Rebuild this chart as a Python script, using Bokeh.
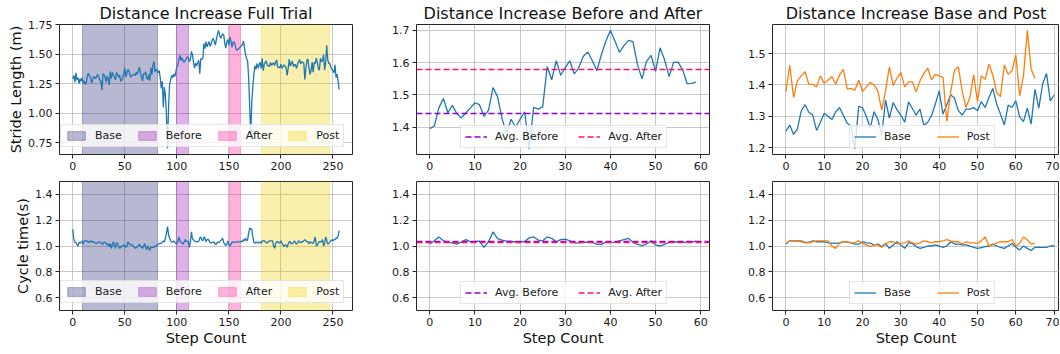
import numpy as np
from bokeh.plotting import figure
from bokeh.layouts import column, row
from bokeh.models import FixedTicker, PrintfTickFormatter, Range1d
from bokeh.embed import file_html
from bokeh.resources import INLINE

FONT = "DejaVu Sans"

# ---------------- data ----------------
# Stride length (m), full trial split into segments
stride_head = [1.29, 1.32, 1.26, 1.34, 1.28, 1.30, 1.25, 1.29, 1.27, 1.30]
stride_base = [1.253, 1.272, 1.242, 1.260, 1.317, 1.337, 1.312, 1.304, 1.255, 1.281,
               1.310, 1.300, 1.290, 1.314, 1.328, 1.303, 1.278, 1.268, 1.197, 1.332,
               1.327, 1.300, 1.262, 1.315, 1.290, 1.238, 1.352, 1.294, 1.344, 1.321,
               1.304, 1.281, 1.346, 1.325, 1.304, 1.323, 1.270, 1.281, 1.302, 1.339,
               1.381, 1.307, 1.337, 1.369, 1.358, 1.318, 1.304, 1.323, 1.323, 1.328,
               1.318, 1.347, 1.328, 1.360, 1.389, 1.339, 1.307, 1.272, 1.336, 1.328,
               1.349, 1.298, 1.283, 1.326, 1.275, 1.386, 1.326, 1.403, 1.437, 1.349,
               1.368]
stride_gap1 = [1.37, 1.34, 1.36, 1.30, 1.21, 1.27, 1.05, 1.22, 1.15, 0.98,
               0.70, 1.05, 1.24, 1.28, 1.32, 1.30, 1.33, 1.31, 1.35]
stride_before_after = [1.396, 1.404, 1.460, 1.489, 1.445, 1.468, 1.442, 1.429, 1.445, 1.460,
                       1.476, 1.470, 1.434, 1.453, 1.523, 1.495, 1.427, 1.380, 1.425, 1.401,
                       1.425, 1.448, 1.334, 1.462, 1.456, 1.463, 1.588, 1.547, 1.606, 1.561,
                       1.585, 1.606, 1.565, 1.585, 1.620, 1.633, 1.606, 1.575, 1.625, 1.667,
                       1.700, 1.667, 1.632, 1.653, 1.669, 1.665, 1.594, 1.550, 1.604, 1.623,
                       1.573, 1.646, 1.609, 1.557, 1.601, 1.602, 1.578, 1.535, 1.536, 1.540]
stride_gap2 = [1.55, 1.56, 1.57, 1.58, 1.61, 1.55, 1.50, 1.46, 1.44, 1.30, 1.05,
               0.80, 1.10, 1.22, 1.33, 1.40, 1.37, 1.42, 1.38, 1.41, 1.43]
stride_post = [1.379, 1.463, 1.360, 1.413, 1.429, 1.442, 1.402, 1.402, 1.394, 1.429,
               1.405, 1.416, 1.427, 1.402, 1.432, 1.450, 1.387, 1.389, 1.383, 1.415,
               1.379, 1.394, 1.408, 1.400, 1.381, 1.320, 1.381, 1.458, 1.398, 1.422,
               1.440, 1.394, 1.410, 1.410, 1.378, 1.413, 1.437, 1.454, 1.416, 1.434,
               1.429, 1.424, 1.284, 1.376, 1.447, 1.458, 1.381, 1.328, 1.360, 1.432,
               1.346, 1.429, 1.418, 1.466, 1.431, 1.376, 1.363, 1.464, 1.434, 1.445,
               1.496, 1.365, 1.429, 1.574, 1.450, 1.421]
stride_tail = [1.42, 1.39, 1.37, 1.36, 1.34, 1.41, 1.30, 1.33, 1.27, 1.20]

# Cycle time (s), same segments
cycle_head = [1.13, 1.05, 1.03, 1.03, 1.01, 1.00, 1.03, 1.02, 1.03, 1.04]
cycle_base = [1.015, 1.040, 1.040, 1.038, 1.040, 1.028, 1.028, 1.040, 1.033, 1.033,
              1.033, 1.025, 1.023, 1.020, 1.025, 1.033, 1.030, 1.025, 1.015, 1.015,
              1.033, 1.025, 1.023, 1.008, 1.015, 0.995, 1.020, 0.982, 1.008, 1.033,
              1.008, 0.982, 1.025, 1.020, 0.995, 0.982, 0.990, 1.000, 1.000, 1.008,
              1.000, 0.990, 1.000, 1.033, 1.015, 1.015, 1.008, 1.008, 1.000, 0.990,
              0.982, 0.987, 0.995, 1.000, 1.015, 1.000, 0.990, 0.982, 1.000, 1.020,
              0.990, 0.970, 1.000, 0.982, 0.965, 0.990, 0.990, 0.990, 0.990, 1.000,
              1.000]
cycle_gap1 = [1.01, 1.01, 1.02, 1.02, 1.02, 1.03, 1.04, 1.03, 1.06, 1.10,
              1.15, 1.09, 1.06, 1.04, 1.03, 1.03, 1.04, 1.03, 1.02]
cycle_before_after = [1.015, 1.040, 1.070, 1.040, 1.028, 1.025, 1.015, 1.030, 1.050, 1.033,
                      1.035, 1.038, 0.990, 1.033, 1.109, 1.058, 1.046, 1.038, 1.035, 1.033,
                      1.033, 1.035, 1.063, 1.070, 1.046, 1.040, 1.070, 1.060, 1.033, 1.050,
                      1.053, 1.040, 1.025, 1.025, 1.028, 1.030, 1.028, 1.013, 1.013, 1.030,
                      1.028, 1.030, 1.040, 1.050, 1.060, 1.028, 1.013, 1.003, 1.015, 1.040,
                      1.008, 1.000, 1.013, 1.028, 1.033, 1.030, 1.028, 1.030, 1.030, 1.038]
cycle_gap2 = [1.03, 1.03, 1.04, 1.03, 1.05, 1.04, 1.06, 1.04, 1.05, 1.10, 1.14,
              1.13, 1.13, 1.07, 1.03, 1.02, 1.03, 1.03, 1.02, 1.03, 1.03]
cycle_post = [1.020, 1.040, 1.040, 1.040, 1.033, 1.025, 1.025, 1.033, 1.040, 1.040,
              1.040, 1.040, 1.000, 0.982, 1.020, 1.033, 1.033, 1.025, 1.025, 1.040,
              1.020, 1.008, 0.995, 1.008, 1.008, 0.990, 1.015, 1.033, 1.033, 1.015,
              1.020, 1.025, 1.040, 1.025, 1.015, 1.025, 1.040, 1.033, 1.025, 1.033,
              1.033, 1.040, 1.050, 1.040, 1.033, 1.033, 1.015, 1.033, 1.025, 1.025,
              1.020, 1.040, 1.070, 1.000, 1.008, 1.025, 1.033, 1.033, 1.033, 1.050,
              1.000, 1.020, 1.070, 1.046, 1.015, 1.020]
cycle_tail = [1.03, 1.04, 1.05, 1.04, 1.05, 1.05, 1.06, 1.06, 1.08, 1.12]

# phases (step-count spans) shaded in the full-trial plots
phase_names = ["Base", "Before", "After", "Post"]
phase_start = [9.5, 99.5, 150.5, 181]
phase_end = [81, 111, 161, 247]
phase_colors = ["#191970", "#8b00b0", "#ff1493", "#eecf00"]
phase_alpha = [0.31, 0.3, 0.33, 0.32]

# tick labels
full_xticks = [0, 50, 100, 150, 200, 250]
ba_xticks = [0, 10, 20, 30, 40, 50, 60]
bp_xticks = [0, 10, 20, 30, 40, 50, 60, 70]
stride_full_yticks = [0.75, 1.00, 1.25, 1.50, 1.75]
stride_ba_yticks = [1.4, 1.5, 1.6, 1.7]
stride_bp_yticks = [1.2, 1.3, 1.4, 1.5]
cycle_yticks = [0.6, 0.8, 1.0, 1.2, 1.4]

BLUE = "#1f77b4"
ORANGE = "#ff7f0e"
AVG_BEFORE = "#9400d3"
AVG_AFTER = "#ff1070"

stride_full = np.array(stride_head + stride_base + stride_gap1 + stride_before_after
                       + stride_gap2 + stride_post + stride_tail)
cycle_full = np.array(cycle_head + cycle_base + cycle_gap1 + cycle_before_after
                      + cycle_gap2 + cycle_post + cycle_tail)


def auto_range(vals, margin=0.05):
    lo, hi = float(np.min(vals)), float(np.max(vals))
    d = (hi - lo) * margin
    return lo - d, hi + d


def style(p, xticks, yticks, yfmt, title=None):
    p.outline_line_color = "#262626"
    p.outline_line_width = 1
    p.outline_line_alpha = 1
    p.xaxis.ticker = FixedTicker(ticks=xticks)
    p.yaxis.ticker = FixedTicker(ticks=yticks)
    p.xaxis.formatter = PrintfTickFormatter(format="%d")
    p.yaxis.formatter = PrintfTickFormatter(format=yfmt)
    for ax in p.xaxis + p.yaxis:
        ax.axis_line_color = None
        ax.major_tick_line_color = "#262626"
        ax.major_tick_out = 4
        ax.major_tick_in = 0
        ax.minor_tick_line_color = None
        ax.major_label_text_font = FONT
        ax.major_label_text_font_size = "11px"
        ax.major_label_text_color = "#1a1a1a"
        ax.major_label_standoff = 3
        ax.axis_label_text_font = FONT
        ax.axis_label_text_font_size = "14.5px"
        ax.axis_label_text_font_style = "normal"
        ax.axis_label_text_color = "#111111"
        ax.axis_label_standoff = 1
    p.grid.grid_line_color = "#b0b0b0"
    p.grid.grid_line_alpha = 0.7
    p.grid.grid_line_width = 1
    if title is not None:
        p.title.text = title
        p.title.text_font = FONT
        p.title.text_font_size = "16px"
        p.title.text_font_style = "normal"
        p.title.text_color = "#111111"
        p.title.align = "center"
        p.title.standoff = 3


def style_legend(p, loc, spacing=21):
    lg = p.legend[0]
    lg.orientation = "horizontal"
    lg.location = loc
    lg.label_text_font = FONT
    lg.label_text_font_size = "11px"
    lg.label_text_color = "#1a1a1a"
    lg.glyph_width = 22
    lg.glyph_height = 11
    lg.label_height = 11
    lg.label_standoff = 8
    lg.spacing = spacing
    lg.padding = 4
    lg.margin = 0
    lg.border_line_color = "#cccccc"
    lg.border_line_width = 1
    lg.background_fill_alpha = 0.8


# layout (page has no margin): frames at x 59/416/772, y 23 and 181
TOP_H, BOT_H = 181, 167
TOP_B = dict(min_border_top=23, min_border_bottom=27)
BOT_B = dict(min_border_top=0, min_border_bottom=37)
W1, W2, W3 = 380, 356, 323
B1 = dict(min_border_left=59, min_border_right=28)
B2 = dict(min_border_left=36, min_border_right=27)
B3 = dict(min_border_left=36, min_border_right=0)

n_full = len(stride_full)
full_xr = (-0.05 * (n_full - 1), (n_full - 1) * 1.05)
n_ba = len(stride_before_after)
ba_xr = (-0.05 * (n_ba - 1), (n_ba - 1) * 1.05)
n_bp = max(len(stride_base), len(stride_post))
bp_xr = (-0.05 * (n_bp - 1), 71.4)

common = dict(output_backend="svg", toolbar_location=None)


def full_plot(values, height, borders, yr, yticks, yfmt, ylabel, title=None, xlabel=None):
    p = figure(width=W1, height=height, x_range=Range1d(*full_xr), y_range=Range1d(*yr),
               **B1, **borders, **common)
    style(p, full_xticks, yticks, yfmt, title)
    for name, s, e, c, a in zip(phase_names, phase_start, phase_end, phase_colors, phase_alpha):
        p.vstrip(x0=[s], x1=[e], fill_color=c, fill_alpha=a, line_color=c, line_alpha=a,
                 line_width=1, legend_label=name)
    p.line(np.arange(len(values)), values, line_color=BLUE, line_width=1.3)
    p.yaxis.axis_label = ylabel
    if xlabel:
        p.xaxis.axis_label = xlabel
    style_legend(p, (1, 7), spacing=14)
    return p


def ba_plot(values, height, borders, yr, yticks, yfmt, title=None, xlabel=None):
    p = figure(width=W2, height=height, x_range=Range1d(*ba_xr), y_range=Range1d(*yr),
               **B2, **borders, **common)
    style(p, ba_xticks, yticks, yfmt, title)
    vals = np.array(values)
    p.line(np.arange(len(vals)), vals, line_color=BLUE, line_width=1.3)
    p.hspan(y=[float(np.mean(vals[:10]))], line_color=AVG_BEFORE, line_width=1.6,
            line_dash="6 3", legend_label="Avg. Before")
    p.hspan(y=[float(np.mean(vals[-10:]))], line_color=AVG_AFTER, line_width=1.6,
            line_dash="6 3", legend_label="Avg. After")
    if xlabel:
        p.xaxis.axis_label = xlabel
    style_legend(p, (44, 6), spacing=20)
    return p


def bp_plot(base, post, height, borders, yr, yticks, yfmt, title=None, xlabel=None):
    p = figure(width=W3, height=height, x_range=Range1d(*bp_xr), y_range=Range1d(*yr),
               **B3, **borders, **common)
    style(p, bp_xticks, yticks, yfmt, title)
    p.line(np.arange(len(base)), base, line_color=BLUE, line_width=1.3, legend_label="Base")
    p.line(np.arange(len(post)), post, line_color=ORANGE, line_width=1.3, legend_label="Post")
    if xlabel:
        p.xaxis.axis_label = xlabel
    style_legend(p, (77, 6), spacing=26)
    return p


p1 = full_plot(stride_full, TOP_H, TOP_B, auto_range(stride_full), stride_full_yticks, "%.2f",
               "Stride Length (m)", title="Distance Increase Full Trial")
p2 = ba_plot(stride_before_after, TOP_H, TOP_B, auto_range(stride_before_after),
             stride_ba_yticks, "%.1f", title="Distance Increase Before and After")
p3 = bp_plot(stride_base, stride_post, TOP_H, TOP_B, auto_range(stride_base + stride_post),
             stride_bp_yticks, "%.1f", title="Distance Increase Base and Post")

cyc_yr = (0.5, 1.5)
p4 = full_plot(cycle_full, BOT_H, BOT_B, cyc_yr, cycle_yticks, "%.1f", "Cycle time(s)",
               xlabel="Step Count")
p5 = ba_plot(cycle_before_after, BOT_H, BOT_B, cyc_yr, cycle_yticks, "%.1f", xlabel="Step Count")
p6 = bp_plot(cycle_base, cycle_post, BOT_H, BOT_B, cyc_yr, cycle_yticks, "%.1f",
             xlabel="Step Count")

layout = column(row(p1, p2, p3), row(p4, p5, p6))
open("out.html", "w").write(file_html(layout, INLINE))
